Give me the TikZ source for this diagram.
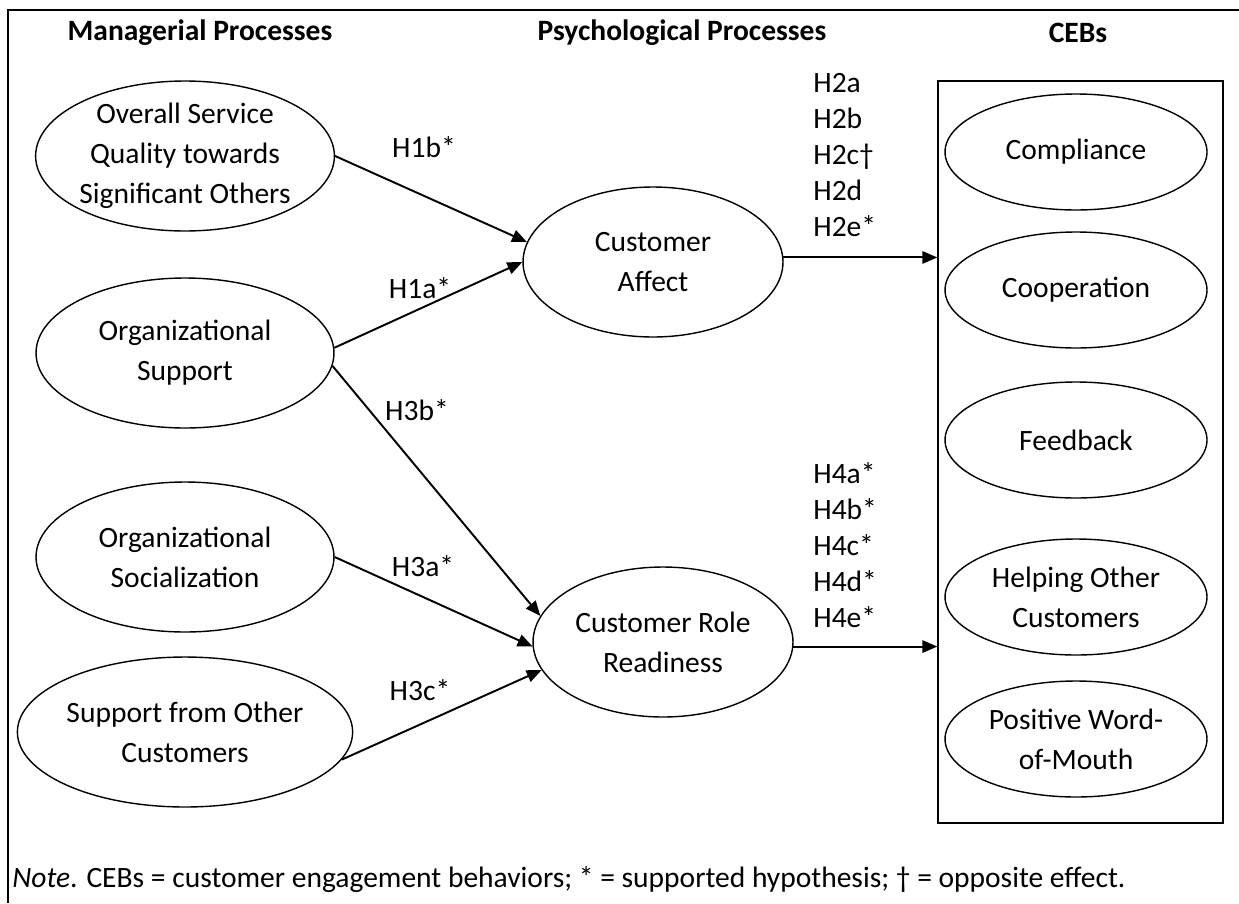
\documentclass[tikz,border=0pt]{standalone}
\usepackage{fontspec}
\setmainfont{Carlito}
\usetikzlibrary{shapes.geometric,arrows.meta}
\begin{document}
\begin{tikzpicture}[x=0.02cm,y=-0.02cm,
	txt/.style={font=\fontsize{16.8}{22.7}\selectfont},
	head/.style={font=\fontsize{16.8}{20}\selectfont\bfseries},
	construct/.style={draw,ellipse,line width=0.8pt,align=center,inner sep=0pt,minimum width=5.96cm,minimum height=3cm,txt},
	mediator/.style={construct,minimum width=5.2cm},
	outcome/.style={construct,minimum width=5.24cm,minimum height=2.32cm},
	link/.style={-{Triangle[length=8.5pt,width=7pt]},line width=1.1pt},
	lbl/.style={txt,inner sep=0pt},
	stack/.style={lbl,align=left,anchor=west,font=\fontsize{16.8}{20.4}\selectfont}]
	\useasboundingbox (0,0) rectangle (1239,903);
	\draw[line width=0.9pt] (1239,10) -- (8,10) -- (8,903);
	\node[head] (mgr) at (200,33) {Managerial Processes};
	\node[head] (psy) at (682,33) {Psychological Processes};
	\node[head] (ceb) at (1078,33) {CEBs};
	\node[construct] (sq) at (185,156) {Overall Service\\Quality towards\\Significant Others};
	\node[construct] (os) at (185,353) {Organizational\\Support};
	\node[construct] (soc) at (185,557) {Organizational\\Socialization};
	\node[construct] (soc2) at (185,732) {Support from Other\\Customers};
	\node[mediator] (ca) at (653,262) {Customer\\Affect};
	\node[mediator] (crr) at (663,642) {Customer Role\\Readiness};
	\node[draw,line width=0.8pt,minimum width=5.7cm,minimum height=14.84cm,inner sep=0pt] (cebs) at (1080.5,452) {};
	\node[outcome] (comp) at (1076,152) {Compliance};
	\node[outcome] (coop) at (1076,290) {Cooperation};
	\node[outcome] (fb) at (1076,440) {Feedback};
	\node[outcome] (help) at (1076,597) {Helping Other\\Customers};
	\node[outcome] (wom) at (1076,739) {Positive Word-\\of-Mouth};
	\draw[link] (sq.east) -- (ca.171);
	\draw[link] (os.2) -- (ca.180);
	\draw[link] (os.-5) -- (crr.168);
	\draw[link] (soc.east) -- (crr.182);
	\draw[link] (soc2.-10) -- (crr.193);
	\draw[link] (ca.2) -- (ca.2 -| cebs.west);
	\draw[link] (crr.-2) -- (crr.-2 -| cebs.west);
	\node[lbl] (h1b) at (424,147) {H1b*};
	\node[lbl] (h1a) at (420,288) {H1a*};
	\node[lbl] (h3b) at (417,410) {H3b*};
	\node[lbl] (h3a) at (423,566) {H3a*};
	\node[lbl] (h3c) at (420,690) {H3c*};
	\node[stack] (h2) at (813,155) {H2a\\H2b\\H2c†\\H2d\\H2e*};
	\node[stack] (h4) at (813,545) {H4a*\\H4b*\\H4c*\\H4d*\\H4e*};
	\node[lbl,anchor=west] (note) at (12,880) {\textit{Note}. CEBs = customer engagement behaviors; * = supported hypothesis; † = opposite effect.};
\end{tikzpicture}
\end{document}
